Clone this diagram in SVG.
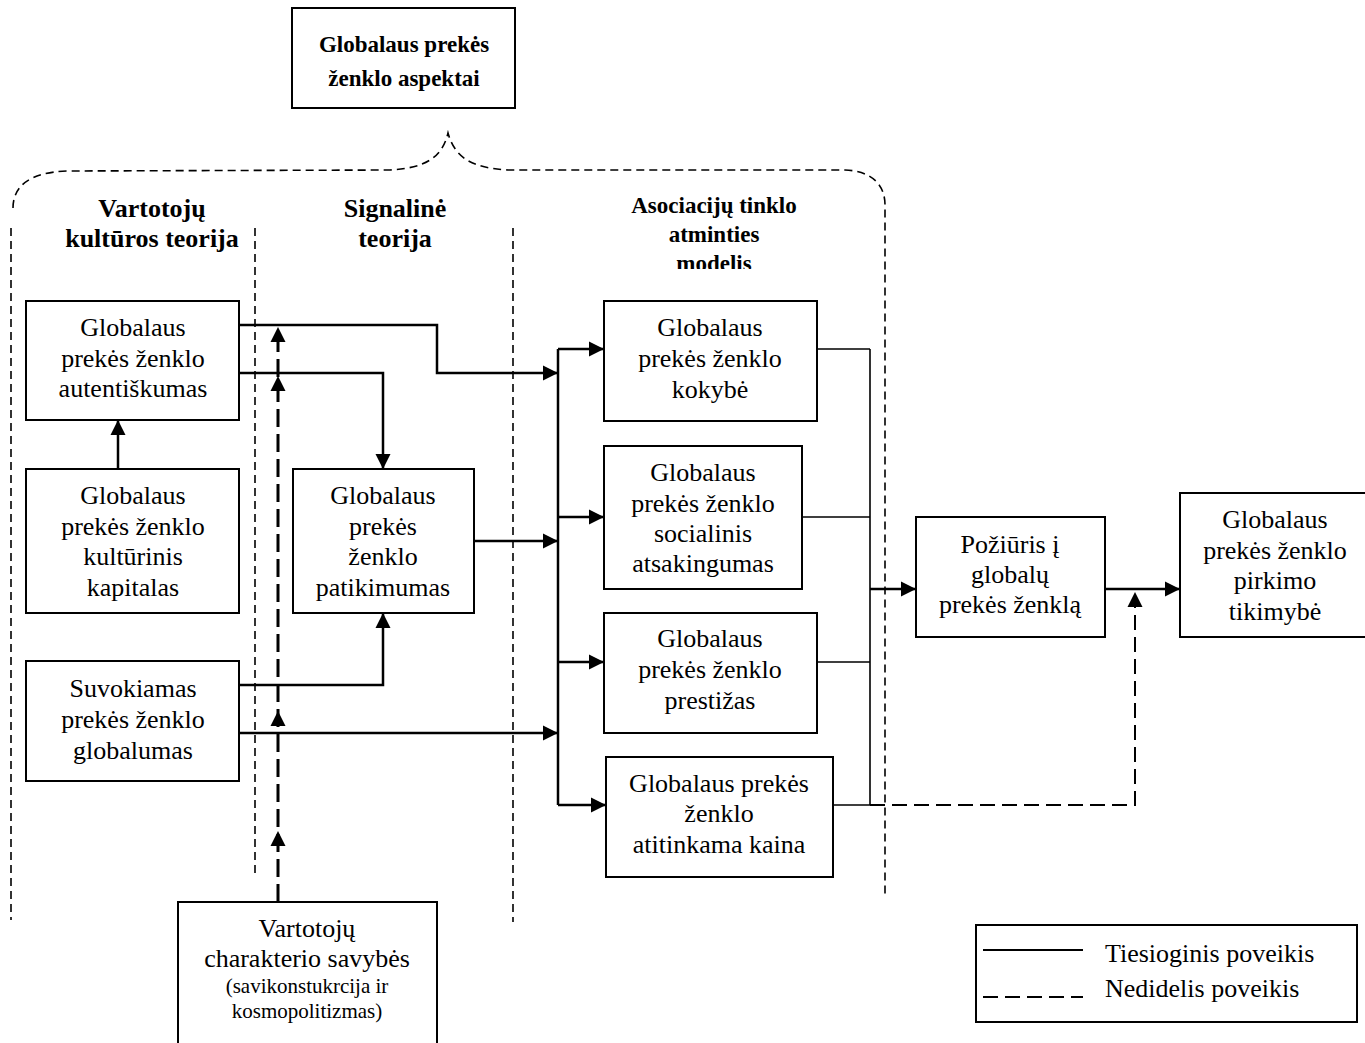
<svg xmlns="http://www.w3.org/2000/svg" width="1365" height="1043" viewBox="0 0 1365 1043">
<defs>
<style>
.box{fill:#fff;stroke:#000;stroke-width:2}
.t{font-family:"Liberation Serif","Times New Roman",serif;font-size:26px;text-anchor:middle;fill:#000}
.s{font-size:21px}
.b{font-weight:bold}
.h2{font-size:23px}
.ttl{font-size:23px}
.lg{text-anchor:start}
.guide{fill:none;stroke:#000;stroke-width:1.6;stroke-dasharray:8 5}
.c{fill:none;stroke:#000;stroke-width:2.5}
.thin{fill:none;stroke:#000;stroke-width:1.6}
.ld{fill:none;stroke:#000;stroke-width:3;stroke-dasharray:18 7}
.d{fill:none;stroke:#000;stroke-width:2;stroke-dasharray:15 7}
</style>
<marker id="ah" markerUnits="userSpaceOnUse" markerWidth="16" markerHeight="16" refX="15" refY="8" orient="auto"><path d="M0,0.5 L15,8 L0,15.5 z" fill="#000"/></marker>
<path id="up" d="M0,0 L7.5,15 L-7.5,15 z" fill="#000"/>
<clipPath id="clipH"><rect x="520" y="180" width="360" height="89"/></clipPath>
</defs>
<rect width="1365" height="1043" fill="#fff"/>

<g id="title">
<rect class="box" x="292" y="8" width="223" height="100"/>
<text class="t b ttl" x="404" y="52">Globalaus prekės</text>
<text class="t b ttl" x="404" y="86">ženklo aspektai</text>
</g>

<g id="guides">
<path class="guide" d="M13 208 C13 186 30 172 68 171 L390 170 C425 168 442 158 448 133 C455 158 472 168 508 170 L845 170 C872 171 885 185 885 205 L885 895"/>
<path class="guide" d="M11 228 V920"/>
<path class="guide" d="M255 228 V877"/>
<path class="guide" d="M513 228 V922"/>
</g>

<g id="headings">
<text class="t b" x="152" y="217">Vartotojų</text>
<text class="t b" x="152" y="247">kultūros teorija</text>
<text class="t b" x="395" y="217">Signalinė</text>
<text class="t b" x="395" y="247">teorija</text>
<g clip-path="url(#clipH)">
<text class="t b h2" x="714" y="213">Asociacijų tinklo</text>
<text class="t b h2" x="714" y="242">atminties</text>
<text class="t b h2" x="714" y="271">modelis</text>
</g>
</g>

<g id="connectors">
<path class="c" d="M239 325 H437 V373 H558" marker-end="url(#ah)"/>
<path class="c" d="M239 373 H383 V469" marker-end="url(#ah)"/>
<path class="c" d="M118 469 V420" marker-end="url(#ah)"/>
<path class="c" d="M239 685 H383 V613" marker-end="url(#ah)"/>
<path class="c" d="M239 733 H558" marker-end="url(#ah)"/>
<path class="c" d="M474 541 H558" marker-end="url(#ah)"/>
<path class="c" d="M558 349 V805"/>
<path class="c" d="M558 349 H604" marker-end="url(#ah)"/>
<path class="c" d="M558 517 H604" marker-end="url(#ah)"/>
<path class="c" d="M558 662 H604" marker-end="url(#ah)"/>
<path class="c" d="M558 805 H606" marker-end="url(#ah)"/>
<path class="thin" d="M817 349 H870 M802 517 H870 M817 662 H870 M833 805 H870 M870 349 V805"/>
<path class="c" d="M870 589 H916" marker-end="url(#ah)"/>
<path class="c" d="M1105 589 H1180" marker-end="url(#ah)"/>
<path class="d" d="M870 805 H1135 V600"/>
<use href="#up" x="1135" y="592"/>
<path class="ld" d="M278 902 V330"/>
<use href="#up" x="278" y="327"/>
<use href="#up" x="278" y="376"/>
<use href="#up" x="278" y="711"/>
<use href="#up" x="278" y="831"/>
</g>

<g id="n-autentiskumas">
<rect class="box" x="26" y="301" width="213" height="119"/>
<text class="t" x="133" y="336">Globalaus</text>
<text class="t" x="133" y="367">prekės ženklo</text>
<text class="t" x="133" y="397">autentiškumas</text>
</g>

<g id="n-kapitalas">
<rect class="box" x="26" y="469" width="213" height="144"/>
<text class="t" x="133" y="504">Globalaus</text>
<text class="t" x="133" y="535">prekės ženklo</text>
<text class="t" x="133" y="565">kultūrinis</text>
<text class="t" x="133" y="596">kapitalas</text>
</g>

<g id="n-globalumas">
<rect class="box" x="26" y="661" width="213" height="120"/>
<text class="t" x="133" y="697">Suvokiamas</text>
<text class="t" x="133" y="728">prekės ženklo</text>
<text class="t" x="133" y="759">globalumas</text>
</g>

<g id="n-patikimumas">
<rect class="box" x="293" y="469" width="181" height="144"/>
<text class="t" x="383" y="504">Globalaus</text>
<text class="t" x="383" y="535">prekės</text>
<text class="t" x="383" y="565">ženklo</text>
<text class="t" x="383" y="596">patikimumas</text>
</g>

<g id="n-savybes">
<rect class="box" x="178" y="902" width="259" height="160"/>
<text class="t" x="307" y="937">Vartotojų</text>
<text class="t" x="307" y="967">charakterio savybės</text>
<text class="t s" x="307" y="993">(savikonstukrcija ir</text>
<text class="t s" x="307" y="1018">kosmopolitizmas)</text>
</g>

<g id="n-kokybe">
<rect class="box" x="604" y="301" width="213" height="120"/>
<text class="t" x="710" y="336">Globalaus</text>
<text class="t" x="710" y="367">prekės ženklo</text>
<text class="t" x="710" y="398">kokybė</text>
</g>

<g id="n-socialinis">
<rect class="box" x="604" y="446" width="198" height="143"/>
<text class="t" x="703" y="481">Globalaus</text>
<text class="t" x="703" y="512">prekės ženklo</text>
<text class="t" x="703" y="542">socialinis</text>
<text class="t" x="703" y="572">atsakingumas</text>
</g>

<g id="n-prestizas">
<rect class="box" x="604" y="613" width="213" height="120"/>
<text class="t" x="710" y="647">Globalaus</text>
<text class="t" x="710" y="678">prekės ženklo</text>
<text class="t" x="710" y="709">prestižas</text>
</g>

<g id="n-kaina">
<rect class="box" x="606" y="757" width="227" height="120"/>
<text class="t" x="719" y="792">Globalaus prekės</text>
<text class="t" x="719" y="822">ženklo</text>
<text class="t" x="719" y="853">atitinkama kaina</text>
</g>

<g id="n-poziuris">
<rect class="box" x="916" y="517" width="189" height="120"/>
<text class="t" x="1010" y="553">Požiūris į</text>
<text class="t" x="1010" y="583">globalų</text>
<text class="t" x="1010" y="613">prekės ženklą</text>
</g>

<g id="n-tikimybe">
<rect class="box" x="1180" y="493" width="200" height="144"/>
<text class="t" x="1275" y="528">Globalaus</text>
<text class="t" x="1275" y="559">prekės ženklo</text>
<text class="t" x="1275" y="589">pirkimo</text>
<text class="t" x="1275" y="620">tikimybė</text>
</g>

<g id="legend">
<rect class="box" x="976" y="925" width="381" height="97"/>
<path fill="none" stroke="#000" stroke-width="2" d="M983 950 H1083"/>
<path fill="none" stroke="#000" stroke-width="2" stroke-dasharray="15 7" d="M983 997 H1083"/>
<text class="t lg" x="1105" y="962">Tiesioginis poveikis</text>
<text class="t lg" x="1105" y="997">Nedidelis poveikis</text>
</g>
</svg>
